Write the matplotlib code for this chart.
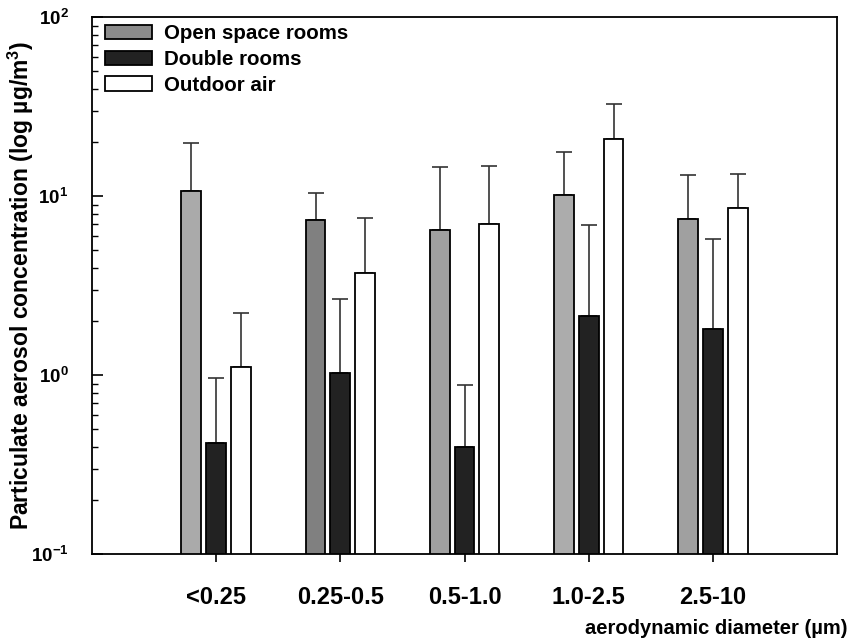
import numpy as np
import matplotlib.pyplot as plt

plt.rcParams['font.family'] = ['Liberation Sans', 'DejaVu Sans']
plt.rcParams['font.weight'] = 'bold'
plt.rcParams['mathtext.fontset'] = 'custom'
plt.rcParams['mathtext.rm'] = 'Liberation Sans:bold'
plt.rcParams['mathtext.bf'] = 'Liberation Sans:bold'

# Datos
categorias = ['<0.25', '0.25-0.5', '0.5-1.0', '1.0-2.5', '2.5-10']
open_space = [10.7, 7.4, 6.5, 10.2, 7.5]
open_space_err = [9.2, 3.0, 8.1, 7.4, 5.7]
double_rooms = [0.42, 1.03, 0.40, 2.15, 1.82]
double_rooms_err = [0.55, 1.64, 0.48, 4.74, 3.95]
outdoor = [1.11, 3.74, 7.0, 20.9, 8.6]
outdoor_err = [1.13, 3.8, 7.8, 12.0, 4.7]

# tonos de gris de cada barra "open space"
grises = ['#aaaaaa', '#808080', '#a0a0a0', '#acacac', '#a0a0a0']

x = np.arange(len(categorias))
ancho = 0.16
paso = 0.2

fig = plt.figure(figsize=(8.53, 6.42), dpi=100)
ax = fig.add_axes([0.1079, 0.1366, 0.8734, 0.8364])

err_kw = dict(ecolor='#333333', elinewidth=1.2, capsize=5.5, capthick=1.2, zorder=1)

series = [(open_space, open_space_err, grises, 'Open space rooms', -paso),
          (double_rooms, double_rooms_err, '#222222', 'Double rooms', 0),
          (outdoor, outdoor_err, 'white', 'Outdoor air', paso)]

for vals, errs, col, lab, off in series:
    ax.errorbar(x + off, vals, yerr=[np.zeros(len(vals)), errs], fmt='none', **err_kw)
    ax.bar(x + off, vals, ancho, color=col, edgecolor='black', linewidth=1.3, label=lab, zorder=2)

ax.set_yscale('log')
ax.set_ylim(0.1, 100)
ax.set_xlim(-1, 5)

ax.set_xticks(x)
ax.set_xticklabels(categorias, fontsize=17, fontweight='bold')
ax.tick_params(axis='x', direction='out', length=6, width=1.2, pad=17)

ax.set_yticks([0.1, 1, 10, 100])
ax.set_yticklabels([r'$\mathbf{10^{-1}}$', r'$\mathbf{10^{0}}$', r'$\mathbf{10^{1}}$', r'$\mathbf{10^{2}}$'],
                   fontsize=13.5)
ax.tick_params(axis='y', which='major', direction='in', length=8, width=1.2, pad=17)
ax.tick_params(axis='y', which='minor', direction='in', length=4, width=1.0)

for s in ax.spines.values():
    s.set_linewidth(1.3)

ax.set_ylabel('Particulate aerosol concentration (log µg/m$^\\mathbf{3}$)', fontsize=16.5,
              fontweight='bold', va='center')
ax.yaxis.set_label_coords(-0.095, 0.5)
fig.text(848 / 853, 1 - 628 / 642, 'aerodynamic diameter (µm)', fontsize=14.5, fontweight='bold',
         ha='right', va='center')

leg = ax.legend(loc='upper left', bbox_to_anchor=(0.017, 0.987), frameon=False, fontsize=14.8,
                handlelength=2.3, handleheight=0.7, borderpad=0, borderaxespad=0,
                labelspacing=0.33, handletextpad=0.6)
for h in leg.legend_handles:
    h.set_edgecolor('black')
    h.set_linewidth(1.3)
leg.legend_handles[0].set_facecolor('#8c8c8c')

plt.savefig('out.png', dpi=100)
